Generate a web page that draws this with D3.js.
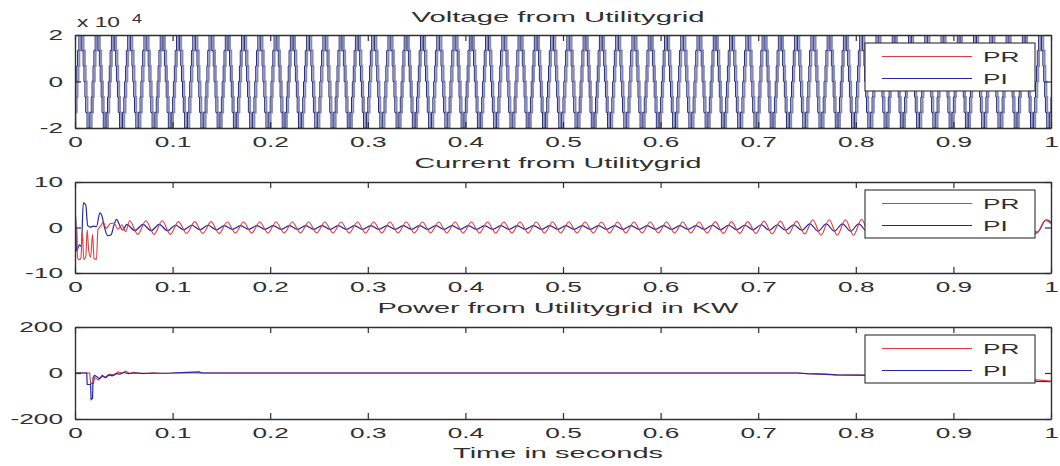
<!DOCTYPE html>
<html><head><meta charset="utf-8">
<script src="https://cdn.jsdelivr.net/npm/d3@7"></script>
<style>
html,body{margin:0;padding:0;background:#fff;}
svg{display:block;font-family:"Liberation Sans",Arial,Helvetica,sans-serif;}
</style></head><body>
<svg id="chart" width="1060" height="466"></svg>
<script>
// ---- shared time axis ----
const timeTicks = [0, 0.1, 0.2, 0.3, 0.4, 0.5, 0.6, 0.7, 0.8, 0.9, 1];
const timeTickLabels = ["0", "0.1", "0.2", "0.3", "0.4", "0.5", "0.6", "0.7", "0.8", "0.9", "1"];
const seriesNames = ["PR", "PI"];

// ---- voltage (x10^4 V): 60 Hz seven-level staircase, one cycle described by its steps ----
const gridFrequency = 60;
const voltCycleStart = 0.0013;
const voltStepPhase = [0, 0.03, 0.08, 0.16, 0.34, 0.42, 0.47, 0.53, 0.58, 0.66, 0.84, 0.92, 0.97];
const voltStepLevel = [0, 0.67, 1.33, 2, 1.33, 0.67, 0, -0.67, -1.33, -2, -1.33, -0.67, 0];
const voltLagPR = 0.0018;
const voltTicks = [-2, 0, 2];
const voltTickLabels = ["-2", "0", "2"];

// ---- current (A) ----
const currentTicks = [-10, 0, 10];
const currentTickLabels = ["-10", "0", "10"];
// start-up transient
const currentStartPR = [[0,0],[0.002,0],[0.0025,-6.5],[0.004,-7.1],[0.006,-6.8],[0.0075,-1],[0.009,-7],
  [0.011,-6.5],[0.0125,-0.5],[0.014,-5],[0.016,-6.5],[0.018,-1.5],[0.0195,-6.8],[0.022,-7],[0.0235,-0.5],
  [0.0265,0.4],[0.029,1.2],[0.032,-0.2],[0.036,0.8],[0.040,1.0],[0.044,-0.4],[0.048,0.6],[0.052,-0.9]];
const currentStartPI = [[0,0],[0.0008,2.6],[0.0015,-5.2],[0.003,-4.6],[0.0045,-3.8],[0.0065,-4.2],
  [0.0085,5.4],[0.011,5.0],[0.013,0.4],[0.016,0.1],[0.019,0.3],[0.022,0.2],[0.0255,3.2],[0.0275,2.6],
  [0.030,0.2],[0.0335,-1.8],[0.037,-1.6],[0.040,0.6],[0.0425,1.8],[0.046,0.4],[0.049,-0.6]];
// ripple peak amplitude in each 0.05 s window, first ripple peak time
const currentWindow = 0.05;
const rippleAmpPR = [1.5,1.5,1.3,1.2,1.2,1.2,1.2,1.2,1.2,1.2,1.2,1.2,1.2,1.3,1.4,1.7,1.8,1.5,1.4,1.4];
const rippleAmpPI = [0.8,0.7,0.5,0.4,0.4,0.4,0.4,0.4,0.4,0.4,0.4,0.4,0.4,0.5,0.6,0.8,0.8,0.7,0.6,0.6];
const rippleFirstPR = 0.056;
const rippleFirstPI = 0.053;
const rippleEnd = 0.982;
const currentEndPR = [[0.986,-1.2],[0.994,1.6],[1.0,0.8]];
const currentEndPI = [[0.986,-1.0],[0.995,1.7],[1.0,1.2]];

// ---- power (kW) ----
const powerTicks = [-200, 0, 200];
const powerTickLabels = ["-200", "0", "200"];
const powerPR = [[0,0],[0.015,0],[0.016,-45],[0.019,-45],[0.02,-20],[0.024,-30],[0.028,-15],[0.032,-20],
  [0.036,-5],[0.04,-10],[0.044,5],[0.048,0],[0.052,8],[0.056,-2],[0.06,3],[0.07,-3],[0.08,1],[0.09,-2],
  [0.1,0],[0.74,0],[0.75,-3],[0.78,-8],[0.82,-10],[0.9,-12],[0.975,-14],[0.985,-30],[1.0,-35]];
const powerPI = [[0,0],[0.012,0],[0.0125,-50],[0.016,-50],[0.0165,-115],[0.018,-110],[0.0185,-20],
  [0.02,-10],[0.022,-15],[0.025,-25],[0.028,-10],[0.031,-20],[0.034,-8],[0.038,-12],[0.042,-3],
  [0.046,-5],[0.05,2],[0.055,-3],[0.06,0],[0.07,-2],[0.08,-1],[0.1,0],[0.115,3],[0.127,5],[0.13,0],
  [0.74,0],[0.75,-3],[0.77,-5],[0.78,-8],[0.8,-9],[0.82,-10],[0.9,-12],[0.975,-14],[0.985,-36],[1.0,-38]];

// ---- drawing ----
const SX = 1.75;            // horizontal text stretch
const INK = "#303030";
const RED = "#e33b3b", BLUE = "#2028a6";
const svg = d3.select("#chart");
const x = d3.scaleLinear().domain([0, 1]).range([75, 1051]);

const panels = [
  {top: 35, bottom: 128, domain: [-2, 2], ticks: voltTicks, labels: voltTickLabels, title: "Voltage from Utilitygrid", titleY: 21.5, titleLen: 293},
  {top: 182, bottom: 273, domain: [-10, 10], ticks: currentTicks, labels: currentTickLabels, title: "Current from Utilitygrid", titleY: 168, titleLen: 287},
  {top: 327, bottom: 419, domain: [-200, 200], ticks: powerTicks, labels: powerTickLabels, title: "Power from Utilitygrid in KW", titleY: 313, titleLen: 361}
];

function voltageSeries(lag) {
  const pts = [];
  for (let c = -1; c <= gridFrequency; c++) {
    voltStepPhase.forEach((p, j) => pts.push([voltCycleStart + lag + (c + p) / gridFrequency, voltStepLevel[j]]));
  }
  return pts;
}
function currentSeries(start, first, amps, end) {
  const pts = start.slice();
  const half = 1 / (2 * gridFrequency);
  for (let k = 0; first + k * half < rippleEnd; k++) {
    const t = first + k * half;
    const a = amps[Math.min(amps.length - 1, Math.floor(t / currentWindow))];
    pts.push([t, k % 2 === 0 ? a : -a]);
  }
  return pts.concat(end);
}

panels.forEach((p, i) => {
  const y = d3.scaleLinear().domain(p.domain).range([p.bottom, p.top]);
  const g = svg.append("g");
  const clipId = "clip" + i;
  svg.append("clipPath").attr("id", clipId).append("rect")
    .attr("x", x(0)).attr("y", p.top).attr("width", x(1) - x(0)).attr("height", p.bottom - p.top);
  const plot = g.append("g").attr("clip-path", `url(#${clipId})`);

  if (i === 0) {
    const line = d3.line().x(d => x(d[0])).y(d => y(d[1])).curve(d3.curveStepAfter);
    plot.append("path").datum(voltageSeries(voltLagPR)).attr("d", line)
      .attr("fill", "none").attr("stroke", "#858bb5").attr("stroke-width", 2);
    plot.append("path").datum(voltageSeries(0)).attr("d", line)
      .attr("fill", "none").attr("stroke", "#262d78").attr("stroke-width", 1);
  } else if (i === 1) {
    const line = d3.line().x(d => x(d[0])).y(d => y(d[1])).curve(d3.curveMonotoneX);
    plot.append("path").datum(currentSeries(currentStartPI, rippleFirstPI, rippleAmpPI, currentEndPI)).attr("d", line)
      .attr("fill", "none").attr("stroke", BLUE).attr("stroke-width", 1.2);
    plot.append("path").datum(currentSeries(currentStartPR, rippleFirstPR, rippleAmpPR, currentEndPR)).attr("d", line)
      .attr("fill", "none").attr("stroke", RED).attr("stroke-width", 1.1);
  } else {
    const line = d3.line().x(d => x(d[0])).y(d => y(d[1]));
    plot.append("path").datum(powerPR).attr("d", line)
      .attr("fill", "none").attr("stroke", RED).attr("stroke-width", 1.1);
    plot.append("path").datum(powerPI).attr("d", line)
      .attr("fill", "none").attr("stroke", BLUE).attr("stroke-width", 1.2);
  }

  // axes: inward ticks on all four sides
  const bottomAxis = g.append("g").attr("transform", `translate(0,${p.bottom})`)
    .call(d3.axisBottom(x).tickValues(timeTicks).tickFormat((d, k) => timeTickLabels[k])
      .tickSizeInner(-6).tickSizeOuter(0).tickPadding(8));
  const topAxis = g.append("g").attr("transform", `translate(0,${p.top})`)
    .call(d3.axisTop(x).tickValues(timeTicks).tickFormat("").tickSizeInner(-6).tickSizeOuter(0));
  const leftAxis = g.append("g").attr("transform", `translate(${x(0)},0)`)
    .call(d3.axisLeft(y).tickValues(p.ticks).tickFormat((d, k) => p.labels[k])
      .tickSizeInner(-6).tickSizeOuter(0).tickPadding(12));
  const rightAxis = g.append("g").attr("transform", `translate(${x(1)},0)`)
    .call(d3.axisRight(y).tickValues(p.ticks).tickFormat("").tickSizeInner(-6).tickSizeOuter(0));
  [bottomAxis, topAxis, leftAxis, rightAxis].forEach(a => {
    a.selectAll(".domain").attr("stroke", INK).attr("stroke-width", 1.4);
    a.selectAll(".tick line").attr("stroke", INK).attr("stroke-width", 1.2);
    a.selectAll("text").attr("fill", INK).attr("font-size", 15)
      .attr("font-family", "'Liberation Sans', Arial, sans-serif");
  });
  bottomAxis.selectAll(".tick text").attr("transform", `scale(${SX},1)`);
  leftAxis.selectAll(".tick text").attr("x", -12 / SX).attr("transform", `scale(${SX},1)`);

  // title
  svg.append("text").attr("x", 558).attr("y", p.titleY).attr("text-anchor", "middle")
    .attr("font-size", 15).attr("fill", INK)
    .attr("textLength", p.titleLen).attr("lengthAdjust", "spacingAndGlyphs").text(p.title);

  // legend
  const lg = g.append("g").attr("transform", `translate(0,${p.top})`);
  lg.append("rect").attr("x", 865).attr("y", 8).attr("width", 170).attr("height", 48)
    .attr("fill", "#fff").attr("stroke", INK).attr("stroke-width", 1.1);
  seriesNames.forEach((name, k) => {
    const ly = 21.5 + k * 22;
    lg.append("line").attr("x1", 882).attr("x2", 972).attr("y1", ly).attr("y2", ly)
      .attr("stroke", k === 0 ? RED : BLUE).attr("stroke-width", 1.1);
    lg.append("text").attr("x", 983 / SX).attr("y", ly + 5.5).attr("transform", `scale(${SX},1)`)
      .attr("font-size", 15).attr("fill", INK).text(name);
  });
});

// exponent label of the voltage axis
const expo = svg.append("g");
expo.append("text").attr("x", 77).attr("y", 27).attr("font-size", 14).attr("fill", INK)
  .attr("textLength", 43).attr("lengthAdjust", "spacingAndGlyphs").text("x 10");
expo.append("text").attr("x", 132).attr("y", 23).attr("font-size", 12).attr("fill", INK)
  .attr("textLength", 10).attr("lengthAdjust", "spacingAndGlyphs").text("4");

// x axis label
svg.append("text").attr("x", 558).attr("y", 458).attr("text-anchor", "middle")
  .attr("font-size", 15).attr("fill", INK)
  .attr("textLength", 210).attr("lengthAdjust", "spacingAndGlyphs").text("Time in seconds");
</script>
</body></html>
